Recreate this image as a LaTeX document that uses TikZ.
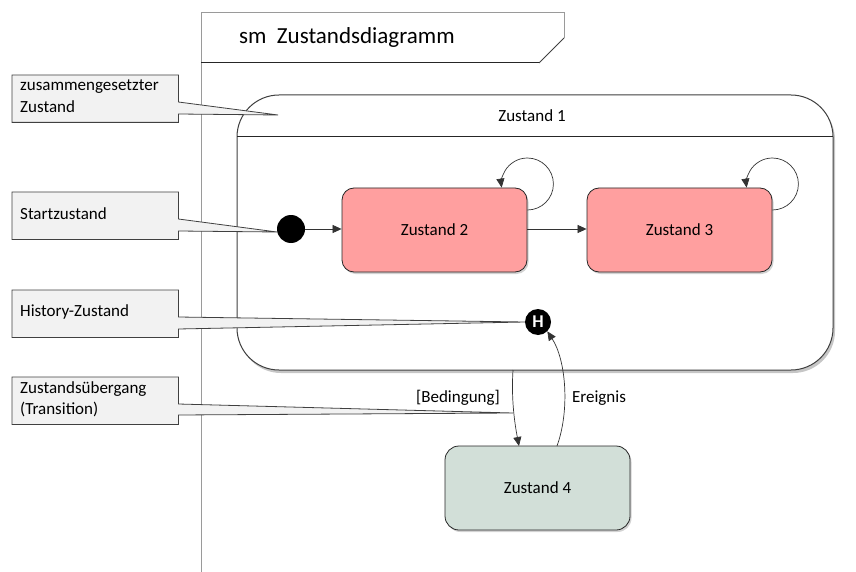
\documentclass[tikz,border=0pt]{standalone}
\usepackage{fontspec}
\setmainfont{Carlito}
\usetikzlibrary{arrows.meta,shadows,calc}
\definecolor{calloutfill}{HTML}{F2F2F2}
\definecolor{calloutline}{HTML}{404040}
\definecolor{redstate}{HTML}{FF9F9F}
\definecolor{greenstate}{HTML}{D2DFD8}
\definecolor{framegray}{HTML}{9A9A9A}
\tikzset{
  every node/.style={font=\fontsize{17}{20}\selectfont},
  arr/.style={-{Triangle[length=9pt,width=8pt]}, draw=black!80, line width=0.7pt},
  callbox/.style={fill=calloutfill, inner sep=0pt, align=left, anchor=north west},
  callpath/.style={fill=calloutfill, draw=calloutline, line width=0.8pt},
  statebox/.style={draw=black!85, line width=0.8pt, rounded corners=12pt,
    minimum width=185pt, minimum height=84pt, inner sep=0pt,
    drop shadow={shadow xshift=1.5pt, shadow yshift=-2pt, opacity=0.35}},
  lbl/.style={inner sep=0pt}
}
\begin{document}
\begin{tikzpicture}[x=1pt,y=-1pt]
\useasboundingbox (0,0) rectangle (856,572);
% frame
\draw[framegray, line width=1pt] (201,572) -- (201,13) -- (564,13) -- (564,38);
\draw[black!75, line width=1pt] (564,38) -- (539,63);
\draw[black!85, line width=1pt] (201,63) -- (539,63);
\node[lbl, anchor=west, font=\fontsize{23}{25}\selectfont] (title) at (239,37) {sm\ \ Zustandsdiagramm};
% composite state
\draw[draw=black!75, line width=1pt, rounded corners=42pt, fill=white,
  drop shadow={shadow xshift=2pt, shadow yshift=-3pt, opacity=0.45}]
  (237,95) rectangle (833,370);
\node[lbl, inner sep=0pt, minimum width=596pt, minimum height=275pt] (z1) at (535,232.5) {};
\draw[black!85, line width=1pt] (237,137) -- (833,137);
\node[lbl] (z1title) at (532,116) {Zustand 1};
% states
\node[statebox, fill=redstate] (z2) at (434.5,230) {Zustand 2};
\node[statebox, fill=redstate] (z3) at (679.5,230) {Zustand 3};
\node[statebox, fill=greenstate, rounded corners=14pt] (z4) at (537.5,488) {Zustand 4};
\node[circle, fill=black, minimum size=28pt, inner sep=0pt] (init) at (291,229) {};
\node[circle, fill=black, minimum size=26pt, inner sep=0pt, text=white,
  font=\fontsize{18}{20}\selectfont\bfseries] (hist) at (538,322) {H};
% transitions
\draw[arr] (init) -- (z2.west |- init);
\draw[arr] (z2.east |- init) -- (z3.west |- init);
\draw[arr] ($(z2.east)+(0,-20)$) arc[start angle=90, end angle=-188, radius=26];
\draw[arr] ($(z3.east)+(0,-20)$) arc[start angle=90, end angle=-188, radius=26];
\coordinate (bstart) at (513,370);
\coordinate (estart) at (557,446);
\draw[arr] (bstart) .. controls (511,400) and (515,425) .. (519,446);
\draw[arr] (estart) .. controls (570,410) and (566,360) .. (hist.south east);
\node[lbl] (bed) at (458,398) {[Bedingung]};
\node[lbl] (ereig) at (599,398) {Ereignis};
% callouts
\coordinate (t1) at (278,115);
\coordinate (t2) at (277,232);
\coordinate (t3) at (525,322);
\coordinate (t4) at (513,413);
\node[callbox, minimum width=166pt, minimum height=47pt] (c1) at (12,75) {};
\draw[callpath] (c1.north west) -- (c1.north east) -- ($(c1.north east)+(0,27)$) -- (t1)
  -- ($(c1.north east)+(0,39)$) -- (c1.south east) -- (c1.south west) -- cycle;
\node[lbl, anchor=north west, align=left, font=\fontsize{17}{22}\selectfont] (c1t) at (20,80) {zusammengesetzter\\Zustand};
\node[callbox, minimum width=166pt, minimum height=47pt] (c2) at (12,192) {};
\draw[callpath] (c2.north west) -- (c2.north east) -- ($(c2.north east)+(0,27)$) -- (t2)
  -- ($(c2.north east)+(0,39)$) -- (c2.south east) -- (c2.south west) -- cycle;
\node[lbl, anchor=west] (c2t) at (20,214) {Startzustand};
\node[callbox, minimum width=166pt, minimum height=47pt] (c3) at (12,290) {};
\draw[callpath] (c3.north west) -- (c3.north east) -- ($(c3.north east)+(0,27)$) -- (t3)
  -- ($(c3.north east)+(0,39)$) -- (c3.south east) -- (c3.south west) -- cycle;
\node[lbl, anchor=west] (c3t) at (20,312) {History-Zustand};
\node[callbox, minimum width=166pt, minimum height=47pt] (c4) at (12,377) {};
\draw[callpath] (c4.north west) -- (c4.north east) -- ($(c4.north east)+(0,27)$) -- (t4)
  -- ($(c4.north east)+(0,38)$) -- (c4.south east) -- (c4.south west) -- cycle;
\node[lbl, anchor=north west, align=left, font=\fontsize{17}{21}\selectfont] (c4t) at (20,381) {Zustandsübergang\\(Transition)};
\end{tikzpicture}
\end{document}
